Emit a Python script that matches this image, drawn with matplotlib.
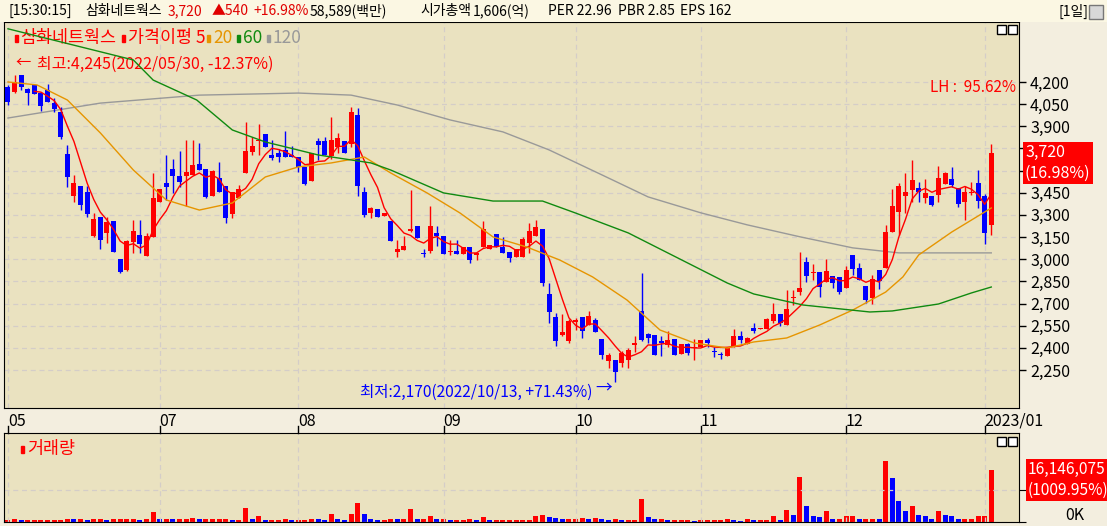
import numpy as np
import pandas as pd
import matplotlib
matplotlib.use("Agg")
import matplotlib.pyplot as plt
from matplotlib.patches import Rectangle

plt.rcParams['font.family'] = ['Noto Sans CJK KR', 'DejaVu Sans']

# ---- data (OHLC per trading day, 2022/05 .. 2023/01) ----
opens = [4168,4130,4247,4150,4180,4123,4146,4056,3999,3713,3430,3496,3457,3160,3288,3175,3259,3002,2927,3119,
         3164,3024,3153,3385,3514,3611,3563,3566,3570,3645,3611,3430,3552,3496,3306,3412,3586,3728,3800,3848,
         3706,3722,3740,3706,3690,3622,3532,3803,3800,3701,3762,3803,3778,3977,3457,3315,3338,3293,3261,3051,
         3062,3193,3227,3036,3056,3180,3157,3049,3056,3033,3085,3029,3085,3067,3168,3085,3051,3013,3017,3112,
         3157,3207,2762,2606,2487,2448,2577,2611,2555,2588,2460,2313,2318,2295,2318,2419,2649,2491,2487,2449,
         2419,2457,2358,2424,2397,2403,2453,2376,2358,2345,2408,2482,2426,2532,2525,2525,2584,2629,2554,2735,
         2780,2981,2907,2911,2848,2886,2882,2807,3028,2942,2818,2735,2927,2938,3186,3322,3430,3468,3480,3412,
         3428,3435,3507,3541,3480,3385,3446,3518,3428,3231]
highs = [4180,4245,4247,4157,4186,4135,4186,4090,4033,3773,3570,3496,3496,3311,3288,3288,3259,3002,3130,3266,
         3266,3175,3582,3476,3706,3676,3735,3807,3807,3785,3611,3604,3656,3496,3453,3503,3931,3830,3915,3848,
         3807,3744,3870,3767,3690,3622,3717,3819,3825,3961,3852,3803,4028,4022,3487,3356,3338,3315,3261,3130,
         3157,3469,3227,3067,3360,3225,3157,3130,3130,3085,3085,3040,3261,3096,3168,3153,3051,3067,3153,3243,
         3265,3207,2841,2634,2629,2593,2604,2611,2652,2600,2460,2367,2318,2381,2397,2480,2904,2498,2487,2480,
         2514,2457,2424,2435,2458,2453,2469,2408,2374,2408,2527,2514,2475,2570,2532,2600,2706,2629,2791,2791,
         3051,3017,2967,2911,3001,2886,2882,2954,3028,2972,2818,2893,2927,3231,3473,3514,3581,3672,3525,3541,
         3428,3633,3592,3626,3480,3496,3525,3604,3441,3780]
lows = [4044,4124,4146,4044,4117,4006,4067,3999,3814,3491,3390,3333,3288,3153,3069,3108,3047,2904,2920,3044,
        3044,3024,3153,3385,3401,3446,3487,3363,3570,3604,3412,3430,3457,3248,3277,3412,3586,3706,3706,3762,
        3672,3661,3690,3690,3593,3503,3532,3672,3706,3676,3722,3717,3758,3430,3288,3277,3288,3293,3123,3013,
        3062,3186,3146,3013,3044,3090,3036,3029,3036,3033,2972,2995,3085,3067,3085,3045,2983,3013,3017,3040,
        3157,2819,2566,2415,2480,2430,2521,2464,2555,2509,2322,2261,2170,2272,2261,2374,2448,2435,2351,2345,
        2408,2351,2358,2351,2318,2403,2408,2340,2322,2345,2403,2430,2426,2502,2525,2525,2570,2548,2554,2690,
        2758,2848,2859,2746,2848,2803,2764,2807,2893,2859,2701,2694,2796,2938,3186,3164,3310,3389,3389,3378,
        3362,3389,3507,3491,3356,3265,3435,3344,3103,3164]
closes = [4067,4202,4168,4128,4117,4040,4067,4017,3825,3559,3518,3367,3306,3272,3130,3254,3047,2911,3123,3191,
          3103,3157,3417,3476,3491,3566,3525,3588,3638,3604,3419,3597,3457,3277,3453,3476,3733,3766,3807,3762,
          3688,3690,3690,3690,3622,3509,3717,3773,3706,3807,3819,3717,4000,3498,3299,3344,3288,3315,3123,3069,
          3092,3207,3146,3034,3225,3157,3036,3058,3036,3085,2995,3040,3205,3096,3085,3045,3006,3067,3135,3191,
          3216,2837,2645,2448,2505,2582,2588,2516,2615,2509,2351,2351,2239,2363,2385,2430,2453,2469,2351,2430,
          2453,2351,2424,2367,2402,2453,2435,2372,2352,2408,2480,2453,2465,2516,2532,2593,2629,2570,2663,2746,
          2802,2886,2911,2814,2920,2841,2780,2927,2931,2859,2724,2864,2852,3186,3360,3496,3457,3536,3457,3450,
          3367,3552,3581,3502,3371,3457,3457,3396,3180,3720]
# volume (relative bar units; scaled to millions of shares below)
vol_units = [5,8,5,5,5,5,5,5,5,10,8,8,5,8,8,5,8,8,8,8,5,8,30,10,10,8,10,10,13,8,8,8,8,8,5,5,42,10,18,5,
             5,5,8,5,5,5,10,8,5,25,8,5,25,58,25,8,5,5,10,8,8,40,8,8,18,8,8,
             5,5,5,8,5,14,5,5,5,5,5,7,7,17,20,14,11,8,8,8,11,8,11,8,5,8,5,5,5,68,
             14,8,8,5,5,5,5,3,5,5,5,5,8,5,3,10,5,5,5,17,6,36,20,135,
             48,18,15,33,8,8,17,17,8,8,10,8,185,132,63,33,47,20,17,10,34,20,17,10,10,10,17,17,157]
volume = [v * 0.1028 for v in vol_units]

ma20_idx = [0,4.4,9,14,19,24,29,34,39,44,49,54,58,63.5,68.5,73.5,78.6,83.6,88.6,93.8,98.8,104,109,113,118,123,128,133,135.6,138,143,149]
ma20_val = [4200,4180,4078,3855,3604,3401,3333,3381,3557,3625,3652,3692,3584,3449,3313,3151,3083,2995,2880,2724,2521,2433,2399,2440,2467,2555,2656,2778,2880,3029,3184,3347]
ma60_idx = [0,19,22,28.6,34,39,47,55,58,66,73.5,81,86,94,109,113,120.5,130.6,134,141,146,149]
ma60_val = [4560,4349,4213,4078,3875,3794,3706,3652,3604,3449,3394,3394,3313,3178,2839,2765,2690,2643,2650,2697,2772,2812]
ma120_idx = [0,14,29,44,52,59,67,75,82,90,97,105,112,120,128,135,143,149]
ma120_val = [3956,4057,4111,4125,4111,4044,3943,3862,3740,3571,3422,3314,3233,3152,3077,3043,3043,3043]

month_pos = [0,23,44,66,86,105,127,148]
month_lab = ['05','07','08','09','10','11','12','2023/01']
price_ticks = list(range(2250, 4201, 150))
hidden_ticks = [3600, 3750]   # covered by the current-price box

RED, BLUE = '#FF0000', '#0000FF'
BG = '#EAE2C0'
PANEL = '#F3EEDF'

W, H = 1107, 526
fig = plt.figure(figsize=(W/100, H/100), dpi=100, facecolor=PANEL)

def frac(x0, y0, x1, y1):
    return [x0/W, 1-y1/H, (x1-x0)/W, (y1-y0)/H]

# header
fig.patches.append(Rectangle((0, 1-22/H), 1, 22/H, transform=fig.transFigure, facecolor='#FBF7E3', edgecolor='none', zorder=0))
hy = 1-11/H
fs = 10
parts = [(8,'[15:30:15]','black'),(85,'삼화네트웍스','black'),(168,'3,720','#E00000'),(212,'▲540','#E00000'),
         (253,'+16.98%','#E00000'),(310,'58,589(백만)','black'),(420,'시가총액','black'),(473,'1,606(억)','black'),
         (548,'PER 22.96','black'),(618,'PBR 2.85','black'),(680,'EPS 162','black')]
for xx, t, cc in parts:
    fig.text(xx/W, hy, t, color=cc, fontsize=fs, va='center', ha='left')
fig.text(1058/W, hy, '[1일]', color='black', fontsize=fs, va='center', ha='left')
fig.patches.append(Rectangle((1089/W, 1-19/H), 14/W, 14/H, transform=fig.transFigure, facecolor='#D8D8D8', edgecolor='#777777', lw=1))

# main price axes
ax = fig.add_axes(frac(4, 22, 1019, 408))
ax.set_facecolor(BG)
n = len(closes)
x = np.arange(n)
o = np.array(opens); c = np.array(closes); hi = np.array(highs); lo = np.array(lows)
col = np.where(c >= o, RED, BLUE)
ax.vlines(x, lo, hi, colors=col, lw=1, zorder=3)
body = np.maximum(np.abs(c - o), 8)
bottom = np.minimum(o, c)
ax.bar(x, body, bottom=bottom, width=0.75, color=col, zorder=4, linewidth=0)

ma5 = pd.Series(closes).rolling(5).mean()
ax.plot(x, ma5, color='#FF0000', lw=1, zorder=5)
ax.plot(ma20_idx, ma20_val, color='#E69500', lw=1, zorder=5)
ax.plot(ma60_idx, ma60_val, color='#108A10', lw=1, zorder=5)
ax.plot(ma120_idx, ma120_val, color='#999999', lw=1, zorder=2)

ax.set_xlim(-0.6, 153.2)
ax.set_ylim(1993, 4606)
ax.yaxis.tick_right()
ax.set_yticks(price_ticks)
ax.set_yticklabels(['' if v in hidden_ticks else f'{v:,}' for v in price_ticks], fontsize=11.5)
ax.tick_params(axis='y', length=5, width=1, pad=3)
ax.set_xticks(month_pos)
ax.tick_params(axis='x', length=0, labelbottom=False)
ax.grid(True, color='#D4CDC8', ls=(0, (4, 3)), lw=0.9)
for s in ax.spines.values():
    s.set_color('black')

AW = 1015.0
leg = [(15,'ˈ',RED),(20,'삼화네트웍스',RED),(122,'ˈ',RED),(128,'가격이평 5',RED),(207,'ˈ','#E69500'),(213,'20','#E69500'),
       (237,'ˈ','#108A10'),(243,'60','#108A10'),(267,'ˈ','#999999'),(273,'120','#999999')]
for xx, t, cc in leg:
    if t == 'ˈ':
        ax.add_patch(Rectangle(((xx-4)/AW, 1-20/386), 2.5/AW, 7/386, transform=ax.transAxes, color=cc))
    else:
        ax.text((xx-4)/AW, 1-16/386, t, transform=ax.transAxes, color=cc, fontsize=12.5, va='center')
ax.text(11/AW, 1-40/386, '←', transform=ax.transAxes, color=RED, fontsize=11, va='center')
ax.text(33/AW, 1-42/386, '최고:4,245(2022/05/30, -12.37%)', transform=ax.transAxes, color=RED, fontsize=11.5, va='center')
ax.text(0.997, 1-65/386, 'LH :  95.62%', transform=ax.transAxes, color=RED, fontsize=11, va='center', ha='right')
ax.text(356/AW, 1-370/386, '최저:2,170(2022/10/13, +71.43%)', transform=ax.transAxes, color=BLUE, fontsize=11.2, va='center')
ax.text(591/AW, 1-366/386, '→', transform=ax.transAxes, color=BLUE, fontsize=12, va='center')

fig.text(1025/W, 1-163/H, '3,720\n(16.98%)', color='white', fontsize=11.5, va='center', ha='left',
         linespacing=1.35, bbox=dict(facecolor=RED, edgecolor='none', pad=1.5))

for p, lab in zip(month_pos, month_lab):
    xf = ax.transData.transform((p, 0))[0] / fig.dpi / fig.get_figwidth()
    fig.text(xf, 1-421/H, lab, fontsize=11.5, va='center', ha='left')
    fig.lines.append(plt.Line2D([xf, xf], [1-433/H, 1-426/H], transform=fig.transFigure, color='black', lw=1))

# volume axes
axv = fig.add_axes(frac(4, 433, 1019, 522))
axv.set_facecolor(BG)
nv = min(n, len(volume))
vcol = [RED] + [RED if volume[i] >= volume[i-1] else BLUE for i in range(1, nv)]
axv.bar(x[:nv], volume[:nv], width=0.75, color=vcol, linewidth=0)
axv.set_xlim(-0.6, 153.2)
axv.set_ylim(0, 27.6)
axv.yaxis.tick_right()
axv.set_yticks([0, 10.0])
axv.set_yticklabels(['', ''])
axv.tick_params(axis='y', length=5)
axv.set_xticks(month_pos)
axv.tick_params(axis='x', length=0, labelbottom=False)
axv.grid(True, color='#D4CDC8', ls=(0, (4, 3)), lw=0.9)
for s in axv.spines.values():
    s.set_color('black')
axv.add_patch(Rectangle((17/AW, 1-20/89), 2.5/AW, 7/89, transform=axv.transAxes, color=RED))
axv.text(23/AW, 1-16/89, '거래량', transform=axv.transAxes, color=RED, fontsize=12.5, va='center')
fig.text(1028/W, 1-480/H, '16,146,075\n(1009.95%)', color='white', fontsize=11.2, va='center', ha='left',
         linespacing=1.35, bbox=dict(facecolor=RED, edgecolor='none', pad=1.5))
fig.text(1075/W, 1-515/H, '0K', color='black', fontsize=11.5, va='center', ha='center')

for yy in (25, 437):
    for xx in (997, 1008):
        fig.patches.append(Rectangle((xx/W, 1-(yy+9)/H), 9/W, 9/H, transform=fig.transFigure,
                                     facecolor='white', edgecolor='black', lw=1))

fig.savefig('out.png', dpi=100, facecolor=fig.get_facecolor())
